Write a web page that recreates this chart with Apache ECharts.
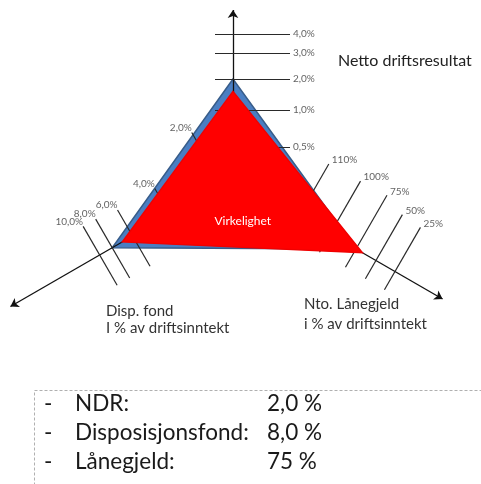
<!DOCTYPE html>
<html>
<head>
<meta charset="utf-8">
<script src="https://cdn.jsdelivr.net/npm/echarts@6/dist/echarts.min.js"></script>
<style>
  html, body { margin: 0; padding: 0; background: #fff; }
  #chart { width: 481px; height: 484px; }
</style>
</head>
<body>
<div id="chart"></div>
<script>
// values
const ndrTicks = [0.5, 1.0, 2.0, 3.0, 4.0];
const dispTicks = [2.0, 4.0, 6.0, 8.0, 10.0];
const loanTicks = [110, 100, 75, 50, 25];
const targetValues = [2.0, 8.0, 75];   // NDR, disp. fond, lånegjeld (mål)
const actualValues = [1.6, 7.0, 67];   // virkelighet
const summaryLabels = ["NDR:", "Disposisjonsfond:", "Lånegjeld:"];

// layout of the three axes (angles in degrees, y up, origin = where the axes meet)
const axisLayout = [
  { ticks: ndrTicks, digits: 1, angle: 90, perp: 0, end: 168,
    levels: [31, 68, 99, 125, 144],
    tickFrom: [-18, -18, -18, -18, -18], tickTo: [57, 57, 57, 57, 57],
    labelPos: "right", labelOffset: [0, 0] },
  { ticks: dispTicks, digits: 1, angle: 210, perp: 120, end: 257,
    levels: [13, 73, 116, 139.5, 154],
    tickFrom: [-35, -35, -35, -35, -35], tickTo: [60, 30, 30, 33, 33],
    labelPos: "left", labelOffset: [3, -5] },
  { ticks: loanTicks, digits: 0, angle: 330, perp: 60, end: 242,
    levels: [76, 112, 142, 165, 187],
    tickFrom: [-21, -21, -21, -21, -21], tickTo: [60, 61, 62, 53, 51],
    labelPos: "right", labelOffset: [0, -4] }
];

const FONT = "Lato";
const rad = Math.PI / 180;

function fmt(v, digits) {
  return v.toFixed(digits).replace(".", ",");
}

// piecewise linear: axis value -> distance from the origin
function toDist(ax, v) {
  const pairs = ax.ticks.map((t, i) => [t, ax.levels[i]]).sort((a, b) => a[0] - b[0]);
  let k = 0;
  while (k < pairs.length - 2 && v > pairs[k + 1][0]) k++;
  const [v0, d0] = pairs[k];
  const [v1, d1] = pairs[k + 1];
  return d0 + (v - v0) / (v1 - v0) * (d1 - d0);
}

function point(ax, d, s) {
  return [
    d * Math.cos(ax.angle * rad) + s * Math.cos(ax.perp * rad),
    d * Math.sin(ax.angle * rad) + s * Math.sin(ax.perp * rad)
  ];
}

const targetPts = targetValues.map((v, i) => point(axisLayout[i], toDist(axisLayout[i], v), 0));
const actualPts = actualValues.map((v, i) => point(axisLayout[i], toDist(axisLayout[i], v), 0));

const axisLines = axisLayout.map(ax => ({ coords: [[0, 0], point(ax, ax.end, 0)] }));

const tickLines = [];
const tickLabels = [];
axisLayout.forEach(ax => {
  ax.ticks.forEach((t, i) => {
    const d = ax.levels[i];
    const top = point(ax, d, ax.tickTo[i]);
    tickLines.push({ coords: [point(ax, d, ax.tickFrom[i]), top] });
    tickLabels.push({
      value: top,
      label: {
        formatter: fmt(t, ax.digits) + "%",
        position: ax.labelPos,
        offset: ax.labelOffset,
        distance: 3
      }
    });
  });
});

function polygonSeries(name, pts, z, fill, stroke, text) {
  return {
    name: name,
    type: "custom",
    coordinateSystem: "cartesian2d",
    silent: true,
    z: z,
    data: [[0, 0]],
    renderItem: function (params, api) {
      const px = pts.map(p => api.coord(p));
      const children = [{
        type: "polygon",
        shape: { points: px },
        style: { fill: fill, stroke: stroke, lineWidth: 1.5 }
      }];
      if (text) {
        const cx = (px[0][0] + px[1][0] + px[2][0]) / 3;
        const cy = (px[0][1] + px[1][1] + px[2][1]) / 3;
        const bx = (px[1][0] + px[2][0]) / 2;
        const by = (px[1][1] + px[2][1]) / 2;
        children.push({
          type: "text",
          x: (cx + bx) / 2 + 2,
          y: (cy + by) / 2,
          style: { text: text, fill: "#fff", font: "12px " + FONT, align: "center", verticalAlign: "middle" }
        });
      }
      return { type: "group", children: children };
    }
  };
}

const summaryRows = [];
summaryLabels.forEach((lab, i) => {
  const y = 405 + i * 29;
  const val = fmt(targetValues[i], axisLayout[i].digits) + " %";
  const base = { fill: "#1a1a1a", font: "22.5px " + FONT, verticalAlign: "middle" };
  summaryRows.push(
    { type: "text", left: 44, top: y - 13, style: Object.assign({ text: "-" }, base) },
    { type: "text", left: 75, top: y - 13, style: Object.assign({ text: lab }, base) },
    { type: "text", left: 267, top: y - 13, style: Object.assign({ text: val }, base) }
  );
});

const chart = echarts.init(document.getElementById("chart"));
chart.setOption({
  animation: false,
  backgroundColor: "#fff",
  grid: { left: 0, right: 0, top: 0, bottom: 0 },
  xAxis: { type: "value", min: -233, max: 248, show: false },
  yAxis: { type: "value", min: -306, max: 178, show: false },
  graphic: [
    { type: "text", left: 338, top: 53, style: { text: "Netto driftsresultat", fill: "#222", font: "16px " + FONT } },
    { type: "text", left: 106, top: 303, style: { text: "Disp. fond\nI % av driftsinntekt", fill: "#333", font: "15px " + FONT, lineHeight: 17 } },
    { type: "text", left: 304, top: 294, style: { text: "Nto. Lånegjeld\ni % av driftsinntekt", fill: "#333", font: "15px " + FONT, lineHeight: 20 } },
    { type: "rect", left: 32, top: 388, shape: { width: 470, height: 120 },
      style: { fill: "none", stroke: "#b0b0b0", lineWidth: 1, lineDash: [3, 2] } }
  ].concat(summaryRows),
  series: [
    polygonSeries("Mål", targetPts, 1, "#4A7EC2", "#385D8A"),
    {
      name: "akser",
      type: "lines",
      coordinateSystem: "cartesian2d",
      silent: true,
      z: 2,
      symbol: ["none", "arrow"],
      symbolSize: 8,
      lineStyle: { color: "#111", width: 1.3, opacity: 1 },
      data: axisLines
    },
    {
      name: "merker",
      type: "lines",
      coordinateSystem: "cartesian2d",
      silent: true,
      z: 2,
      lineStyle: { color: "#2a2a2a", width: 1.2, opacity: 1 },
      data: tickLines
    },
    polygonSeries("Virkelighet", actualPts, 3, "#FF0000", "#F00000", "Virkelighet"),
    {
      name: "etiketter",
      type: "scatter",
      silent: true,
      z: 4,
      symbolSize: 0,
      label: { show: true, color: "#3a3a3a", fontSize: 10, fontFamily: FONT },
      data: tickLabels
    }
  ]
});
</script>
</body>
</html>
